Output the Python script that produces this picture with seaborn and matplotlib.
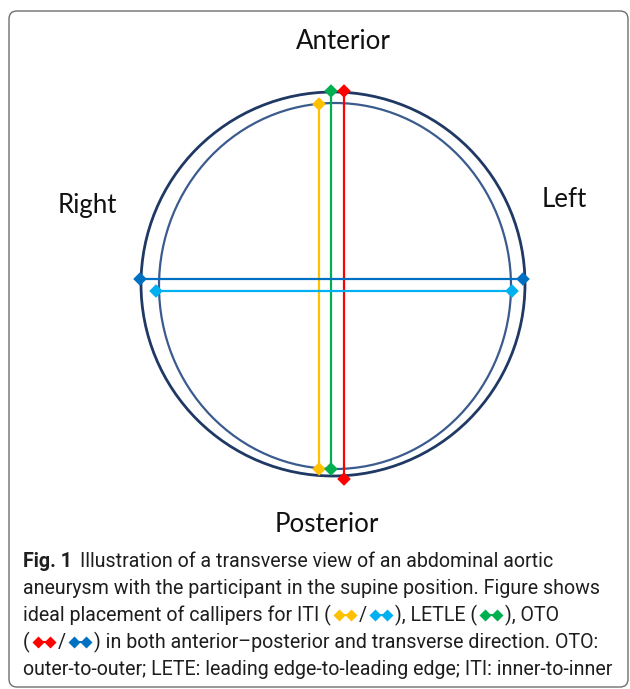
import matplotlib
matplotlib.use('Agg')
import matplotlib.pyplot as plt
from matplotlib.patches import Ellipse, FancyBboxPatch
import pandas as pd
import seaborn as sns

# caliper pairs (pixel space of the 630x689 figure)
caliper_names = ['ITI AP', 'LETLE AP', 'OTO AP', 'OTO TR', 'ITI TR']
caliper_colors = ['#FFC000', '#00B050', '#FF0000', '#0070C0', '#00B0F0']
start_x = [319, 331, 344, 140, 156]
start_y = [104, 91, 91, 279, 291]
end_x = [319, 331, 344, 523, 512]
end_y = [469, 469, 479, 279, 291]

# vessel walls: (centre x, centre y, width, height)
outer_wall = (333, 284, 384, 384)
inner_wall = (335, 286, 352, 366)

# orientation labels
orient_labels = ['Anterior', 'Right', 'Left', 'Posterior']
orient_x = [343, 87, 564, 327]
orient_y = [49, 213, 207, 532]

caption_lines = [
    [('bold', 'Fig. 1'), ('gap', 8), ('text', 'Illustration of a transverse view of an abdominal aortic')],
    [('text', 'aneurysm with the participant in the supine position. Figure shows')],
    [('text', 'ideal placement of callipers for ITI ('), ('glyph', '#FFC000'), ('text', '/'),
     ('glyph', '#00B0F0'), ('text', '), LETLE ('), ('glyph', '#00B050'), ('text', '), OTO')],
    [('text', '('), ('glyph', '#FF0000'), ('text', '/'), ('glyph', '#0070C0'),
     ('text', ') in both anterior\u2013posterior and transverse direction. OTO:')],
    [('text', 'outer-to-outer; LETE: leading edge-to-leading edge; ITI: inner-to-inner')],
]
caption_baselines = [567, 594, 621, 648, 675]

sns.set_theme(style='white')
fig = plt.figure(figsize=(6.3, 6.89), dpi=100)
ax = fig.add_axes([0, 0, 1, 1])

frame = FancyBboxPatch((9, 11), 619, 676, boxstyle='round,pad=0,rounding_size=8',
                       fc='none', ec='#6e6e6e', lw=1.0)
ax.add_patch(frame)

cx, cy, w, h = outer_wall
ax.add_patch(Ellipse((cx, cy), w, h, fc='none', ec='#1F3864', lw=2.0, zorder=2))
cx, cy, w, h = inner_wall
ax.add_patch(Ellipse((cx, cy), w, h, fc='none', ec='#3B5B8E', lw=1.6, zorder=2))

cal = pd.DataFrame({
    'caliper': caliper_names * 2,
    'x': start_x + end_x,
    'y': start_y + end_y,
})
palette = dict(zip(caliper_names, caliper_colors))
for name in caliper_names:
    sub = cal[cal['caliper'] == name]
    sns.lineplot(data=sub, x='x', y='y', color=palette[name], lw=1.6,
                 sort=False, estimator=None, ax=ax, zorder=3)
sns.scatterplot(data=cal, x='x', y='y', hue='caliper', palette=palette, marker='D',
                s=48, linewidth=0, legend=False, ax=ax, zorder=4)
ax.set_xlim(0, 630)
ax.set_ylim(689, 0)
ax.axis('off')

for lab, x, y in zip(orient_labels, orient_x, orient_y):
    ax.text(x, y, lab, ha='center', va='baseline', fontsize=18.6,
            family=['Lato', 'DejaVu Sans'], color='#111111')

# caption with inline calliper glyphs
renderer = fig.canvas.get_renderer()
cap_size = 14.1
cap_font = ['Roboto', 'DejaVu Sans']
for parts, base in zip(caption_lines, caption_baselines):
    x = 23
    for kind, val in parts:
        if kind == 'gap':
            x += val
        elif kind == 'glyph':
            gx = [x + 8, x + 20]
            gy = [base - 6, base - 6]
            ax.plot(gx, gy, color=val, lw=1.4, zorder=3)
            ax.plot(gx, gy, ls='none', marker='D', ms=5.8, mec='none', mfc=val, zorder=4)
            x += 28
        else:
            t = ax.text(x, base, val, ha='left', va='baseline', fontsize=cap_size,
                        family=cap_font, color='#1e1e1e',
                        weight='bold' if kind == 'bold' else 'normal')
            x += t.get_window_extent(renderer).width

fig.savefig('out.png', dpi=100)
